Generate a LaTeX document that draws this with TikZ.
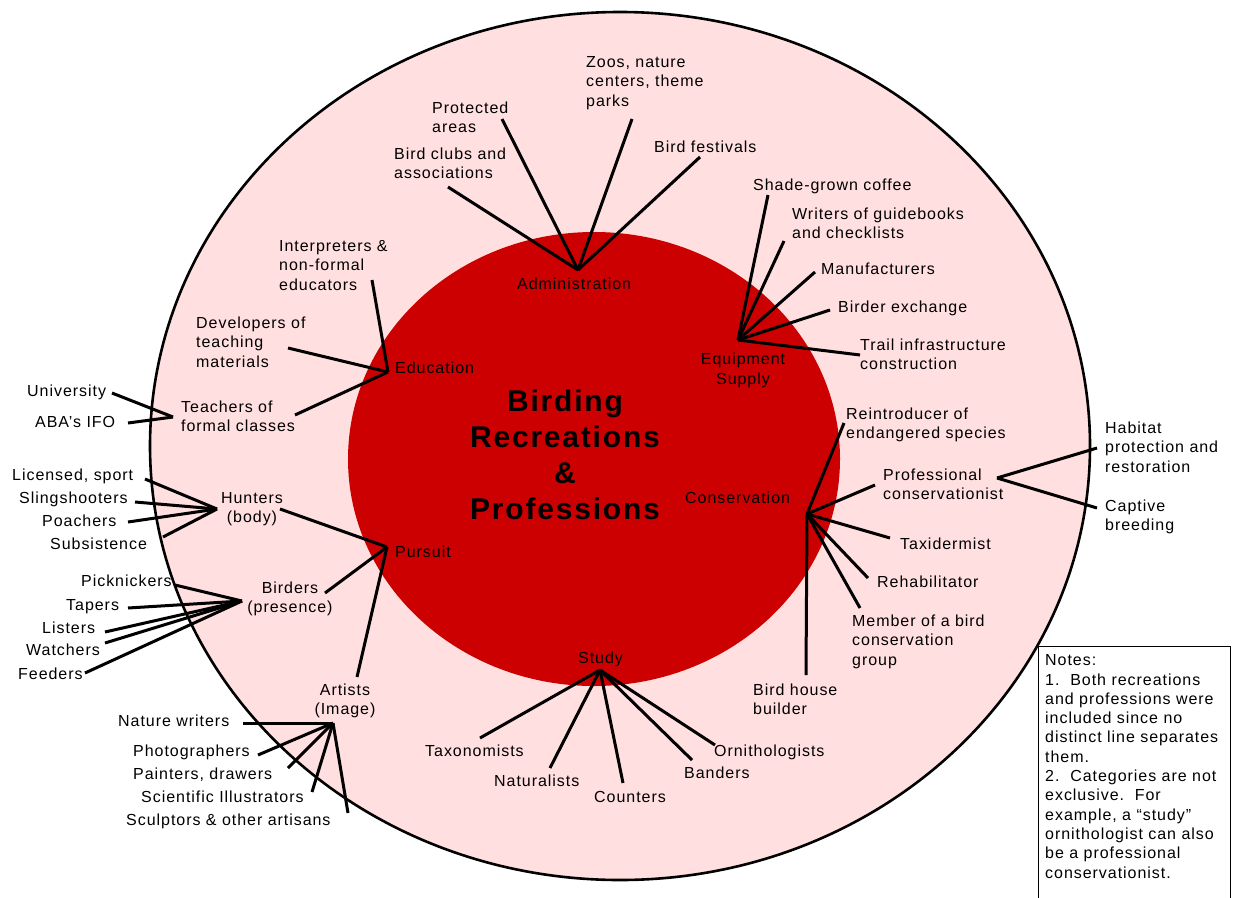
\documentclass[tikz,border=0pt]{standalone}
\usepackage{fontspec}
\setmainfont{Liberation Sans}[LetterSpace=6]
\definecolor{pinkbg}{RGB}{255,223,223}
\definecolor{redc}{RGB}{204,0,0}
\begin{document}
\begin{tikzpicture}[x=1pt,y=-1pt,
  lbl/.style={font=\fontsize{16}{19.5}\selectfont, inner sep=0pt, align=left, anchor=base west},
  clbl/.style={font=\fontsize{16}{19.5}\selectfont, inner sep=0pt, align=center, anchor=base},
  ttl/.style={font=\fontsize{30}{36}\selectfont\bfseries, inner sep=0pt, align=center, anchor=base},
  conn/.style={line width=3pt},
  notestyle/.style={font=\fontsize{16}{19.3}\selectfont, inner sep=0pt, align=left, anchor=base west}]
\useasboundingbox (0,0) rectangle (1233,897);
% circles
\draw[line width=2.6pt, fill=pinkbg] (620,446) ellipse [x radius=470, y radius=434];
\fill[redc] (594,459) ellipse [x radius=246, y radius=227];
% hubs
\coordinate (adm) at (578,270);
\coordinate (eqp) at (738,340);
\coordinate (edu) at (388,372);
\coordinate (pur) at (387,547);
\coordinate (con) at (807,514);
\coordinate (stu) at (600,670);
\coordinate (teachH) at (173,417);
\coordinate (huntH) at (217,509);
\coordinate (birdH) at (242,601);
\coordinate (artH) at (333,723);
\coordinate (profH) at (997,478);
% ends
\coordinate (clubsE) at (448,187);
\coordinate (protE) at (502,119);
\coordinate (zoosE) at (632,119);
\coordinate (festE) at (700,157);
\coordinate (coffeeE) at (768,195);
\coordinate (writE) at (784,241);
\coordinate (manE) at (815,272);
\coordinate (exchE) at (830,310);
\coordinate (trailE) at (860,355);
\coordinate (interpE) at (372,280);
\coordinate (develE) at (288,348);
\coordinate (teachE) at (295,415);
\coordinate (univE) at (112,393);
\coordinate (abaE) at (128,423);
\coordinate (huntE) at (280,509);
\coordinate (birdE) at (325,593);
\coordinate (artE) at (357,677);
\coordinate (licE) at (145,479);
\coordinate (slingE) at (135,502);
\coordinate (poachE) at (128,522);
\coordinate (subE) at (163,537);
\coordinate (pickE) at (175,585);
\coordinate (tapE) at (128,608);
\coordinate (listE) at (105,632);
\coordinate (watchE) at (105,643);
\coordinate (feedE) at (85,673);
\coordinate (natE) at (243,723);
\coordinate (photoE) at (258,755);
\coordinate (paintE) at (288,768);
\coordinate (sciE) at (312,792);
\coordinate (sculpE) at (348,813);
\coordinate (taxE) at (480,738);
\coordinate (natuE) at (550,768);
\coordinate (countE) at (623,783);
\coordinate (bandE) at (692,760);
\coordinate (ornE) at (715,745);
\coordinate (reintE) at (844,423);
\coordinate (profE) at (875,485);
\coordinate (taxiE) at (890,538);
\coordinate (rehabE) at (868,578);
\coordinate (memE) at (860,608);
\coordinate (houseE) at (806,675);
\coordinate (habE) at (1097,448);
\coordinate (capE) at (1097,508);
% connectors
\foreach \e in {clubsE,protE,zoosE,festE} \draw[conn] (adm) -- (\e);
\foreach \e in {coffeeE,writE,manE,exchE,trailE} \draw[conn] (eqp) -- (\e);
\foreach \e in {interpE,develE,teachE} \draw[conn] (edu) -- (\e);
\foreach \e in {univE,abaE} \draw[conn] (teachH) -- (\e);
\foreach \e in {huntE,birdE,artE} \draw[conn] (pur) -- (\e);
\foreach \e in {licE,slingE,poachE,subE} \draw[conn] (huntH) -- (\e);
\foreach \e in {pickE,tapE,listE,watchE,feedE} \draw[conn] (birdH) -- (\e);
\foreach \e in {natE,photoE,paintE,sciE,sculpE} \draw[conn] (artH) -- (\e);
\foreach \e in {taxE,natuE,countE,bandE,ornE} \draw[conn] (stu) -- (\e);
\foreach \e in {reintE,profE,taxiE,rehabE,memE,houseE} \draw[conn] (con) -- (\e);
\foreach \e in {habE,capE} \draw[conn] (profH) -- (\e);
% title
\node[ttl] (title) at (565,519) {Birding\\Recreations\\\&\\Professions};
% category labels
\node[lbl] (admin) at (517,289) {Administration};
\node[clbl] (equip) at (743,384) {Equipment\\Supply};
\node[lbl] (educ) at (395,373) {Education};
\node[lbl] (pursuit) at (395,557) {Pursuit};
\node[lbl] (conserv) at (685,503) {Conservation};
\node[lbl] (study) at (578,663) {Study};
% administration
\node[lbl] (clubs) at (394,178.5) {Bird clubs and\\associations};
\node[lbl] (prot) at (432,132.5) {Protected\\areas};
\node[lbl] (zoos) at (586,106) {Zoos, nature\\centers, theme\\parks};
\node[lbl] (fest) at (654,152) {Bird festivals};
% equipment
\node[lbl] (coffee) at (753,190) {Shade-grown coffee};
\node[lbl] (writers) at (792,238.5) {Writers of guidebooks\\and checklists};
\node[lbl] (manuf) at (821,274) {Manufacturers};
\node[lbl] (exch) at (838,312) {Birder exchange};
\node[lbl] (trail) at (860,369.5) {Trail infrastructure\\construction};
% education
\node[lbl] (interp) at (279,290) {Interpreters \&\\non-formal\\educators};
\node[lbl] (devel) at (196,367) {Developers of\\teaching\\materials};
\node[lbl] (teach) at (181,431.5) {Teachers of\\formal classes};
\node[lbl] (univ) at (27,396) {University};
\node[lbl] (aba) at (35,427) {ABA’s IFO};
% pursuit
\node[clbl] (hunters) at (252,522.5) {Hunters\\(body)};
\node[lbl] (lic) at (12,480) {Licensed, sport};
\node[lbl] (sling) at (19,503) {Slingshooters};
\node[lbl] (poach) at (42,526) {Poachers};
\node[lbl] (subs) at (50,549) {Subsistence};
\node[clbl] (birders) at (290,612.5) {Birders\\(presence)};
\node[lbl] (pick) at (81,586) {Picknickers};
\node[lbl] (tap) at (66,610) {Tapers};
\node[lbl] (list) at (42,633) {Listers};
\node[lbl] (watch) at (26,655) {Watchers};
\node[lbl] (feed) at (18,679) {Feeders};
\node[clbl] (artists) at (345,714.5) {Artists\\(Image)};
\node[lbl] (natw) at (118,726) {Nature writers};
\node[lbl] (photo) at (133,756) {Photographers};
\node[lbl] (paint) at (133,779) {Painters, drawers};
\node[lbl] (sci) at (141,802) {Scientific Illustrators};
\node[lbl] (sculp) at (126,825) {Sculptors \& other artisans};
% study
\node[lbl] (tax) at (425,756) {Taxonomists};
\node[lbl] (natu) at (494,786) {Naturalists};
\node[lbl] (count) at (594,802) {Counters};
\node[lbl] (band) at (684,778) {Banders};
\node[lbl] (orn) at (714,756) {Ornithologists};
% conservation
\node[lbl] (reint) at (846,438.5) {Reintroducer of\\endangered species};
\node[lbl] (prof) at (883,499.5) {Professional\\conservationist};
\node[lbl] (hab) at (1105,472) {Habitat\\protection and\\restoration};
\node[lbl] (cap) at (1105,530.5) {Captive\\breeding};
\node[lbl] (taxi) at (900,549) {Taxidermist};
\node[lbl] (rehab) at (877,587) {Rehabilitator};
\node[lbl] (mem) at (852,665) {Member of a bird\\conservation\\group};
\node[lbl] (house) at (753,714.5) {Bird house\\builder};
% notes
\draw[line width=0.8pt, fill=white] (1038,905) -- (1038,646) -- (1230,646) -- (1230,905);
\node[notestyle] (notes) at (1045,878) {Notes:\\1.\ \ Both recreations\\and professions were\\included since no\\distinct line separates\\them.\\2.\ \ Categories are not\\exclusive.\ \ For\\example, a “study”\\ornithologist can also\\be a professional\\conservationist.};
\end{tikzpicture}
\end{document}
